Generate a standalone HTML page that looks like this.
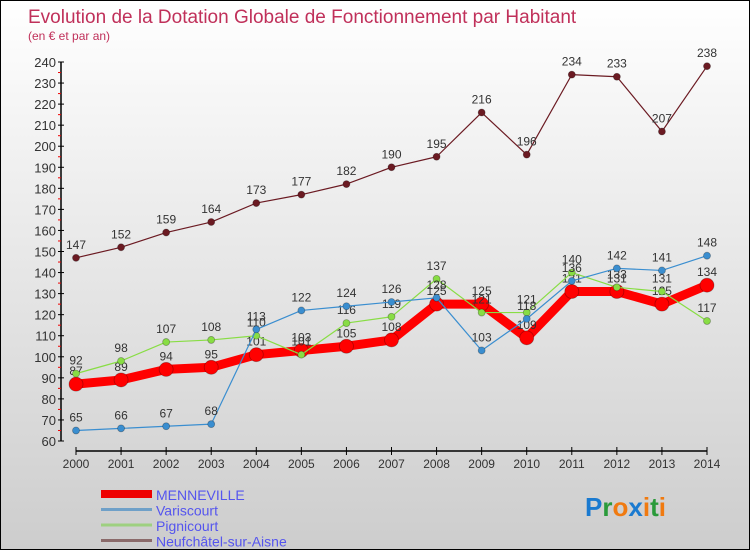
<!DOCTYPE html>
<html><head><meta charset="utf-8"><style>
body{margin:0}
#c{width:750px;height:550px;position:relative;box-sizing:border-box;border:1px solid #000;background:linear-gradient(#ffffff,#cdcdcd);font-family:"Liberation Sans",sans-serif;overflow:hidden}
</style></head><body>
<div id="c">
<svg id="s" width="750" height="550" style="position:absolute;left:0;top:0"></svg>
</div>
<script>
const years=[2000,2001,2002,2003,2004,2005,2006,2007,2008,2009,2010,2011,2012,2013,2014];
const menneville=[87,89,94,95,101,103,105,108,125,125,109,131,131,125,134];
const variscourt=[65,66,67,68,113,122,124,126,128,103,118,136,142,141,148];
const pignicourt=[92,98,107,108,110,101,116,119,137,121,121,140,133,131,117];
const neufchatel=[147,152,159,164,173,177,182,190,195,216,196,234,233,207,238];
const yTicks=[60,70,80,90,100,110,120,130,140,150,160,170,180,190,200,210,220,230,240];
const NS="http://www.w3.org/2000/svg";
const s=document.getElementById('s');
function X(i){return 75+i*(706-75)/14;}
function Y(v){return 440-(v-60)*(440-61)/180;}
function el(t,a,txt){const e=document.createElementNS(NS,t);for(const k in a)e.setAttribute(k,a[k]);if(txt!==undefined)e.textContent=txt;s.appendChild(e);return e;}
let e;
e=el('text',{x:27,y:22,'font-size':19,fill:'#c0305a'},'Evolution de la Dotation Globale de Fonctionnement par Habitant');

e=el('text',{x:27,y:39,'font-size':12,fill:'#c0305a'},'(en € et par an)');

e=el('line',{x1:60,y1:61,x2:60,y2:440,stroke:'#000','stroke-width':1.5});

e=el('line',{x1:75,y1:450,x2:706,y2:450,stroke:'#000','stroke-width':1.5});

yTicks.forEach(v=>{
 el('line',{x1:57,y1:Y(v),x2:63,y2:Y(v),stroke:'#000'});
 if(v<240)el('line',{x1:57,y1:Y(v+5),x2:60,y2:Y(v+5),stroke:'#e00'});
 e=el('text',{x:55,y:Y(v)+5,'font-size':13,fill:'#333','text-anchor':'end'},v);
 
});
years.forEach((y,i)=>{
 el('line',{x1:X(i),y1:446,x2:X(i),y2:454,stroke:'#000'});
 e=el('text',{x:X(i),y:467,'font-size':12,fill:'#333','text-anchor':'middle'},y);
 
});
function series(data,color,w,r,name){
 e=el('polyline',{points:data.map((v,i)=>X(i)+','+Y(v)).join(' '),fill:'none',stroke:color,'stroke-width':w,'stroke-linejoin':'round'});
 
 data.forEach((v,i)=>{
  e=el('circle',{cx:X(i),cy:Y(v),r:r,fill:color,stroke:'rgba(0,0,0,0.3)','stroke-width':0.8});
  
  e=el('text',{x:X(i),y:Y(v)-9,'font-size':12,fill:'#333','text-anchor':'middle'},v);
  
 });
}
series(neufchatel,'#6b1a22',1.2,3.5,'neufchatel');
series(menneville,'#ff0000',9,7,'menneville');
series(pignicourt,'#88dd44',1.2,3.5,'pignicourt');
series(variscourt,'#3a8ed0',1.2,3.5,'variscourt');
const leg=[['MENNEVILLE','#ee0000',8],['Variscourt','#6fa0c8',3],['Pignicourt','#9ed080',3],['Neufchâtel-sur-Aisne','#8a6a6a',3]];
leg.forEach((l,i)=>{
 const yy=493+i*15.5;
 e=el('line',{x1:100,y1:yy,x2:151,y2:yy,stroke:l[1],'stroke-width':l[2]});
 
 e=el('text',{x:155,y:yy+6,'font-size':14,fill:'#5555ee'},l[0]);
 
});
e=el('text',{x:584,y:515,'font-size':26,'font-weight':'bold'});

[['P','#1a7ad0'],['r','#2a9a3a'],['o','#f07a10'],['x','#1a7ad0'],['i','#f07a10'],['t','#2a9a3a'],['i','#f07a10']].forEach(p=>{const t=document.createElementNS(NS,'tspan');t.setAttribute('fill',p[1]);t.textContent=p[0];e.appendChild(t);});
</script>
</body></html>
